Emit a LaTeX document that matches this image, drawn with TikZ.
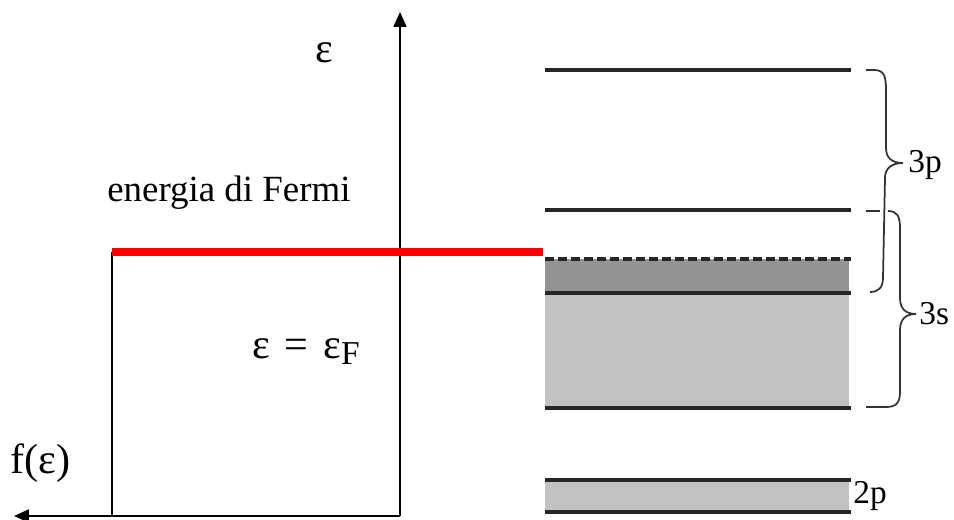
\documentclass[tikz,border=0pt]{standalone}
\usepackage{fontspec}
\setmainfont{Liberation Serif}
\usetikzlibrary{arrows.meta}

\begin{document}
\begin{tikzpicture}[
  x=0.02cm, y=-0.02cm,
  axis/.style={line width=1.2pt, -{Triangle[length=0.3cm, width=0.26cm]}},
  level/.style={line width=2pt, draw=black!85},
  lbl/.style={font=\fontsize{24}{28}\selectfont, inner sep=0pt, anchor=base west},
  bandlbl/.style={font=\fontsize{19}{22}\selectfont, inner sep=0pt, anchor=base west},
  brc/.style={line width=1pt, draw=black!80}
]
  \useasboundingbox (0,0) rectangle (954,520);

  % axes
  \coordinate (origin) at (400,516);
  \coordinate (etop) at (400,12);
  \coordinate (fleft) at (14,516);
  \draw[axis] (origin) -- (etop);
  \draw[axis] (origin) -- (fleft);

  % step f(e) at T=0
  \coordinate (stepbot) at (112,516);
  \coordinate (steptop) at (112,252);
  \coordinate (fermiend) at (543,252);
  \draw[line width=1.2pt] (stepbot) -- (steptop);
  \draw[red, line width=4pt] (steptop) -- (fermiend);

  \node[lbl] (eps) at (315,63) {ε};
  \node[lbl, font=\fontsize{21}{25}\selectfont] (fermi) at (107,202) {energia di Fermi};
  \node[lbl] (efermi) at (252,358) {ε\hspace{0.35em}=\hspace{0.35em}ε\textsubscript{\fontsize{19}{22}\selectfont F}};
  \node[lbl] (feps) at (10,473) {f(ε)};

  % bands
  \fill[black!42] (545,259) rectangle (849,293);
  \fill[black!24] (545,293) rectangle (849,408);
  \fill[black!24] (545,480) rectangle (849,512);
  \draw[level] (545,70) -- (851,70);
  \draw[level] (545,210) -- (851,210);
  \draw[level, dash pattern=on 0.18cm off 0.08cm] (545,259) -- (851,259);
  \draw[level] (545,293) -- (851,293);
  \draw[level] (545,408) -- (851,408);
  \draw[level] (545,480) -- (851,480);
  \draw[level] (545,512) -- (851,512);

  % braces
  \draw[brc] (866,70) -- (874,70) .. controls (884,70) and (886,76) .. (886,90)
    -- (886,148) .. controls (886,158) and (892,163) .. (903,163)
    .. controls (892,163) and (885,168) .. (885,178)
    -- (883,278) .. controls (883,288) and (878,292) .. (870,292);
  \draw[brc] (866,211) -- (880,211);
  \draw[brc] (888,211) .. controls (897,211) and (900,216) .. (900,228)
    -- (900,298) .. controls (900,309) and (906,314) .. (916,314)
    .. controls (906,314) and (900,319) .. (900,330)
    -- (900,392) .. controls (900,403) and (896,407) .. (886,407) -- (866,407);

  \node[bandlbl] (lp) at (908,173) {3p};
  \node[bandlbl] (ls) at (919,325) {3s};
  \node[bandlbl] (ltwo) at (853,503) {2p};
\end{tikzpicture}
\end{document}
